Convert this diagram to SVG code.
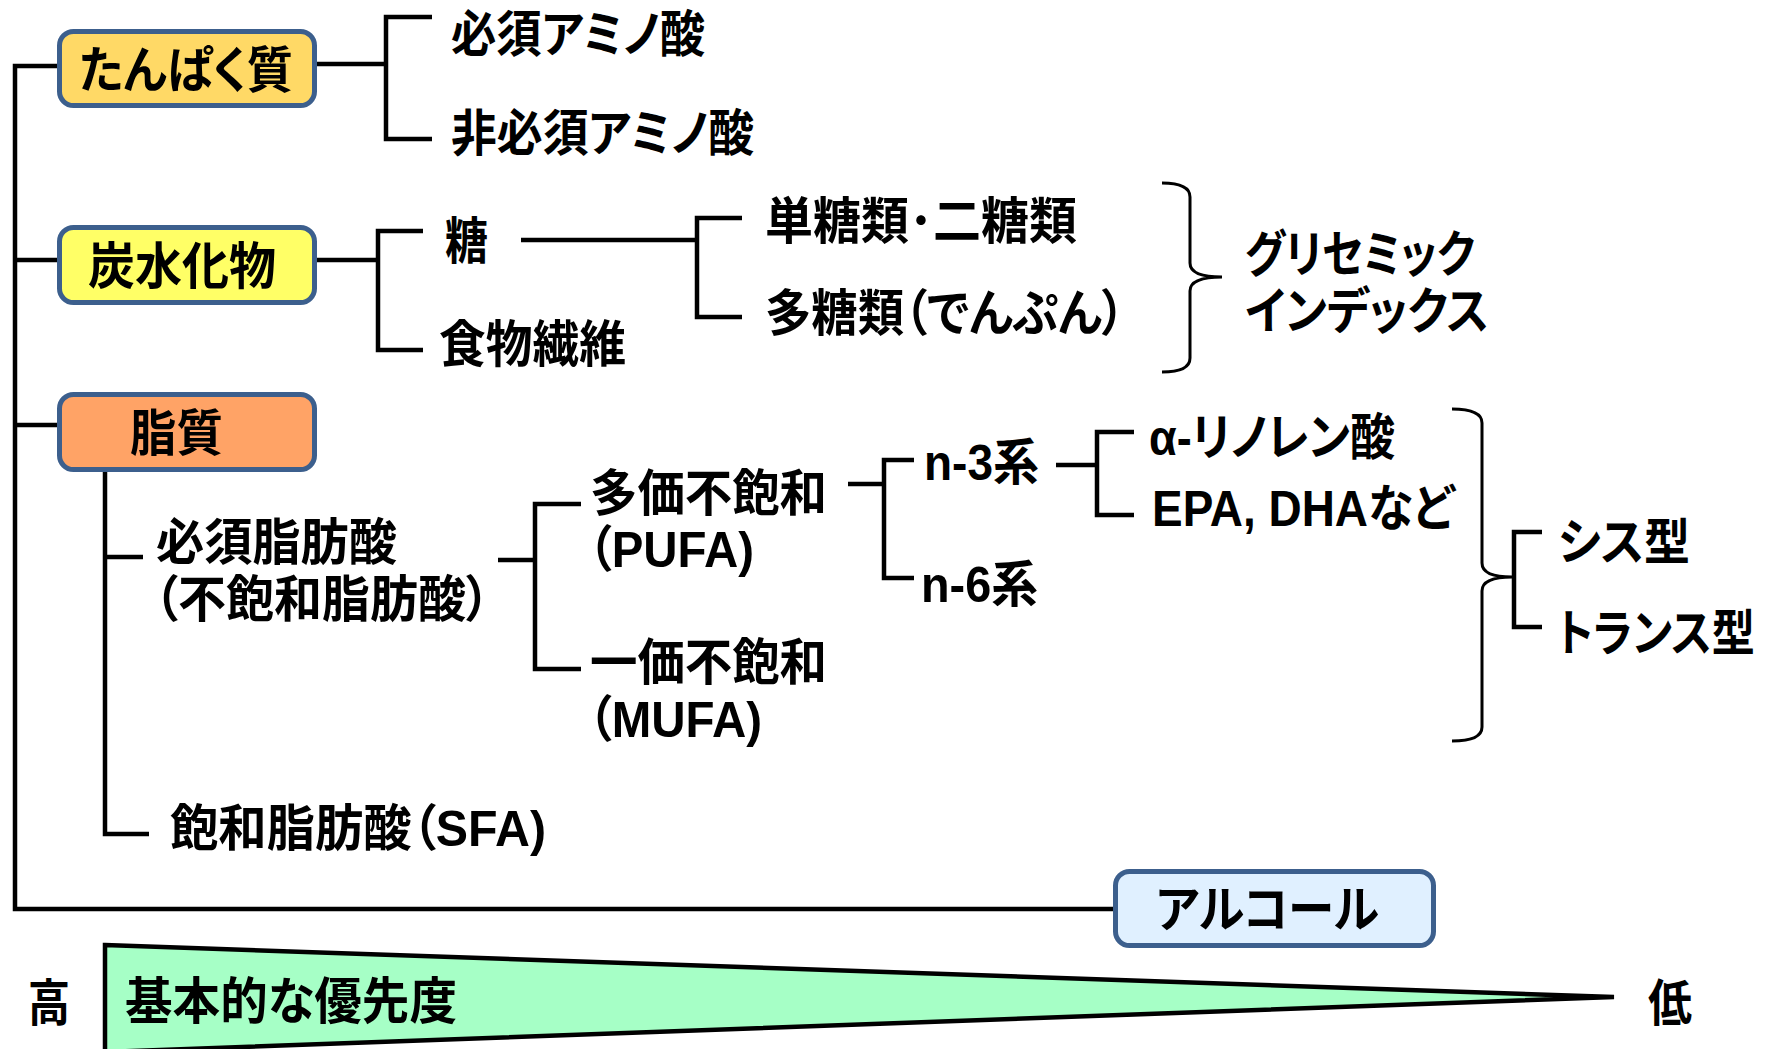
<svg xmlns="http://www.w3.org/2000/svg" width="1769" height="1049" viewBox="0 0 1769 1049">
<style>
text{font-family:"Liberation Sans","Noto Sans CJK JP",sans-serif;font-weight:bold;font-size:50px;fill:#000;font-feature-settings:"palt"}
.box{stroke:#3C5F8D;stroke-width:5}
.ln{fill:none;stroke:#000;stroke-width:4.5}
.br{fill:none;stroke:#000;stroke-width:3}
</style>
<rect width="1769" height="1049" fill="#fff"/>
<g id="connectors">
<path class="ln" d="M59 66 H15 V909 H1115 M15 260 H59 M15 425 H59"/>
<path class="ln" d="M317 64 H386 M432 17 H386 V139 H432"/>
<path class="ln" d="M317 260 H378 M423 231 H378 V350 H423"/>
<path class="ln" d="M521 240 H697 M742 218 H697 V317 H742"/>
<path class="ln" d="M105 472 V834 H149 M105 557 H143"/>
<path class="ln" d="M498 560 H535 M581 504 H535 V669 H581"/>
<path class="ln" d="M848 484 H884 M914 460 H884 V578 H914"/>
<path class="ln" d="M1056 465 H1097 M1134 432 H1097 V515 H1134"/>
<path class="ln" d="M1542 532 H1514 V627 H1542"/>
<path class="br" d="M1162 183 Q1190 183 1190 197 V263 Q1190 277 1222 277 Q1190 277 1190 291 V358 Q1190 372 1162 372"/>
<path class="br" d="M1452 409 Q1482 409 1482 423 V563 Q1482 577 1512 577 Q1482 577 1482 591 V727 Q1482 741 1452 741"/>
</g>
<g id="protein">
<rect class="box" x="59.5" y="31.5" width="255" height="74" rx="14" fill="#FFD966"/>
<text x="79" y="88" textLength="214" lengthAdjust="spacingAndGlyphs">たんぱく質</text>
</g>
<g id="eaa"><text x="451" y="52" textLength="254" lengthAdjust="spacingAndGlyphs">必須アミノ酸</text></g>
<g id="neaa"><text x="451" y="151" textLength="303" lengthAdjust="spacingAndGlyphs">非必須アミノ酸</text></g>
<g id="carb">
<rect class="box" x="59.5" y="227.5" width="255" height="75" rx="14" fill="#FFFF66"/>
<text x="88" y="284" textLength="188" lengthAdjust="spacingAndGlyphs">炭水化物</text>
</g>
<g id="sugar"><text x="445" y="259" textLength="43" lengthAdjust="spacingAndGlyphs">糖</text></g>
<g id="fiber"><text x="439" y="362" textLength="187" lengthAdjust="spacingAndGlyphs">食物繊維</text></g>
<g id="mono"><text x="765" y="239" textLength="312" lengthAdjust="spacingAndGlyphs">単糖類･二糖類</text></g>
<g id="poly"><text x="765" y="331" textLength="360" lengthAdjust="spacingAndGlyphs">多糖類（でんぷん）</text></g>
<g id="gi">
<text x="1245" y="272" textLength="230" lengthAdjust="spacingAndGlyphs">グリセミック</text>
<text x="1245" y="329" textLength="244" lengthAdjust="spacingAndGlyphs">インデックス</text>
</g>
<g id="lipid">
<rect class="box" x="59.5" y="394.5" width="255" height="75" rx="14" fill="#FFA366"/>
<text x="130" y="451" textLength="93" lengthAdjust="spacingAndGlyphs">脂質</text>
</g>
<g id="efa">
<text x="156" y="560" textLength="241" lengthAdjust="spacingAndGlyphs">必須脂肪酸</text>
<text x="154" y="617" textLength="336" lengthAdjust="spacingAndGlyphs">（不飽和脂肪酸）</text>
</g>
<g id="sfa"><text x="170" y="846" textLength="376" lengthAdjust="spacingAndGlyphs">飽和脂肪酸（SFA)</text></g>
<g id="pufa">
<text x="590" y="511" textLength="237" lengthAdjust="spacingAndGlyphs">多価不飽和</text>
<text x="588" y="567" textLength="166" lengthAdjust="spacingAndGlyphs">（PUFA)</text>
</g>
<g id="mufa">
<text x="590" y="680" textLength="237" lengthAdjust="spacingAndGlyphs">一価不飽和</text>
<text x="588" y="737" textLength="174" lengthAdjust="spacingAndGlyphs">（MUFA)</text>
</g>
<g id="n3"><text x="924" y="480" textLength="115" lengthAdjust="spacingAndGlyphs">n-3系</text></g>
<g id="n6"><text x="921" y="602" textLength="117" lengthAdjust="spacingAndGlyphs">n-6系</text></g>
<g id="ala"><text x="1149" y="455" textLength="246" lengthAdjust="spacingAndGlyphs">α-リノレン酸</text></g>
<g id="epa"><text x="1152" y="526" textLength="302" lengthAdjust="spacingAndGlyphs">EPA, DHAなど</text></g>
<g id="cis"><text x="1558" y="560" textLength="132" lengthAdjust="spacingAndGlyphs">シス型</text></g>
<g id="trans"><text x="1557" y="651" font-size="46" textLength="198" lengthAdjust="spacingAndGlyphs">トランス型</text></g>
<g id="alcohol">
<rect class="box" x="1115.5" y="871.5" width="318" height="74" rx="14" fill="#E0F0FF"/>
<text x="1156" y="927" textLength="223" lengthAdjust="spacingAndGlyphs">アルコール</text>
</g>
<g id="priority">
<polygon points="105,945 1614,997 105,1052" fill="#A6FFC6" stroke="#000" stroke-width="4.5" stroke-linejoin="miter"/>
<text x="28" y="1021" textLength="42" lengthAdjust="spacingAndGlyphs">高</text>
<text x="125" y="1019" textLength="332" lengthAdjust="spacingAndGlyphs">基本的な優先度</text>
<text x="1648" y="1021" textLength="44" lengthAdjust="spacingAndGlyphs">低</text>
</g>
</svg>
